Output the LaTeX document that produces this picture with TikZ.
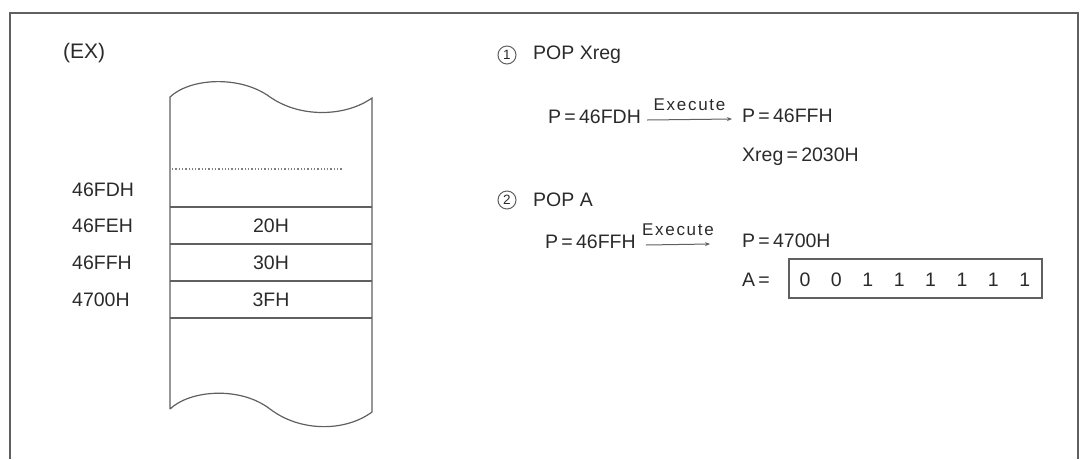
\documentclass[tikz,border=0pt]{standalone}
\usepackage{fontspec}
\setmainfont{Liberation Sans}
\usetikzlibrary{arrows.meta}
\definecolor{ink}{HTML}{2A2A2A}
\definecolor{rule}{HTML}{606060}
\begin{document}
\begin{tikzpicture}[x=1pt,y=-1pt,
  txt/.style={inner sep=0pt, text=ink, font=\fontsize{19.5}{21}\selectfont},
  exe/.style={inner sep=0pt, text=ink, font=\fontsize{17}{18}\selectfont\addfontfeature{LetterSpace=10}},
  num/.style={circle, draw=rule, line width=1pt, inner sep=0pt, minimum size=18pt, text=ink, font=\fontsize{13.5}{14}\selectfont},
  memline/.style={draw=rule, line width=1.2pt},
  arr/.style={draw=rule, line width=1pt, -{Stealth[length=5pt,width=4pt]}},
  bitbox/.style={draw=rule, line width=1.2pt, minimum width=253pt, minimum height=39pt, inner sep=0pt}
]
\useasboundingbox (0,0) rectangle (1080,459);
% outer frame
\draw[draw=rule, line width=1.6pt] (10,459) -- (10,13) -- (1078,13) -- (1078,459);

% (EX)
\node[txt, anchor=west, font=\fontsize{21}{23}\selectfont] (ex) at (63,53) {(EX)};

% memory column outline
\draw[memline] (170,409) -- (170,97)
  .. controls (190,78) and (240,75) .. (270,97)
  .. controls (300,118) and (345,117) .. (372,98)
  -- (372,412)
  .. controls (345,432) and (300,432) .. (270,409)
  .. controls (240,386) and (190,390) .. (170,409);
\draw[draw=rule!80, line width=1.3pt, dotted] (172,169) -- (342,169);
\draw[memline] (170,207) -- (372,207);
\draw[memline] (170,244) -- (372,244);
\draw[memline] (170,281) -- (372,281);
\draw[memline] (170,318) -- (372,318);

% addresses
\node[txt, anchor=west] (a1) at (72,190) {46FDH};
\node[txt, anchor=west] (a2) at (72,226) {46FEH};
\node[txt, anchor=west] (a3) at (72,263) {46FFH};
\node[txt, anchor=west] (a4) at (72,300) {4700H};
% cell contents
\node[txt] (c2) at (271,226) {20H};
\node[txt] (c3) at (271,263) {30H};
\node[txt] (c4) at (271,300) {3FH};

% step 1
\node[num] (n1) at (507,55) {1};
\node[txt, anchor=west] (pop1) at (533,55) {POP Xreg};
\node[txt, anchor=west] (p1) at (548,117) {P\,=\,46FDH};
\node[txt, anchor=west] (p2) at (742,116) {P\,=\,46FFH};
\draw[arr] ([shift={(6,3)}]p1.east) -- ([shift={(-10,3)}]p2.west)
  node[exe, midway, above=8pt] (e1) {Execute};
\node[txt, anchor=west] (x1) at (742,157) {Xreg\,=\,2030H};

% step 2
\node[num] (n2) at (507,200) {2};
\node[txt, anchor=west] (pop2) at (533,200) {POP A};
\node[txt, anchor=west] (p3) at (545,242) {P\,=\,46FFH};
\node[txt, anchor=west] (p4) at (742,241) {P\,=\,4700H};
\draw[arr] ([shift={(10,3)}]p3.east) -- ([shift={(-32,3)}]p4.west)
  node[exe, midway, above=8pt] (e2) {Execute};
\node[txt, anchor=west] (aeq) at (742,280) {A\,=};
\node[bitbox] (bits) at (915.5,278.5) {};
\foreach \i/\b in {0/0,1/0,2/1,3/1,4/1,5/1,6/1,7/1}{
  \node[txt] (b\i) at ({805+31.4*\i},280) {\b};
}
\end{tikzpicture}
\end{document}
